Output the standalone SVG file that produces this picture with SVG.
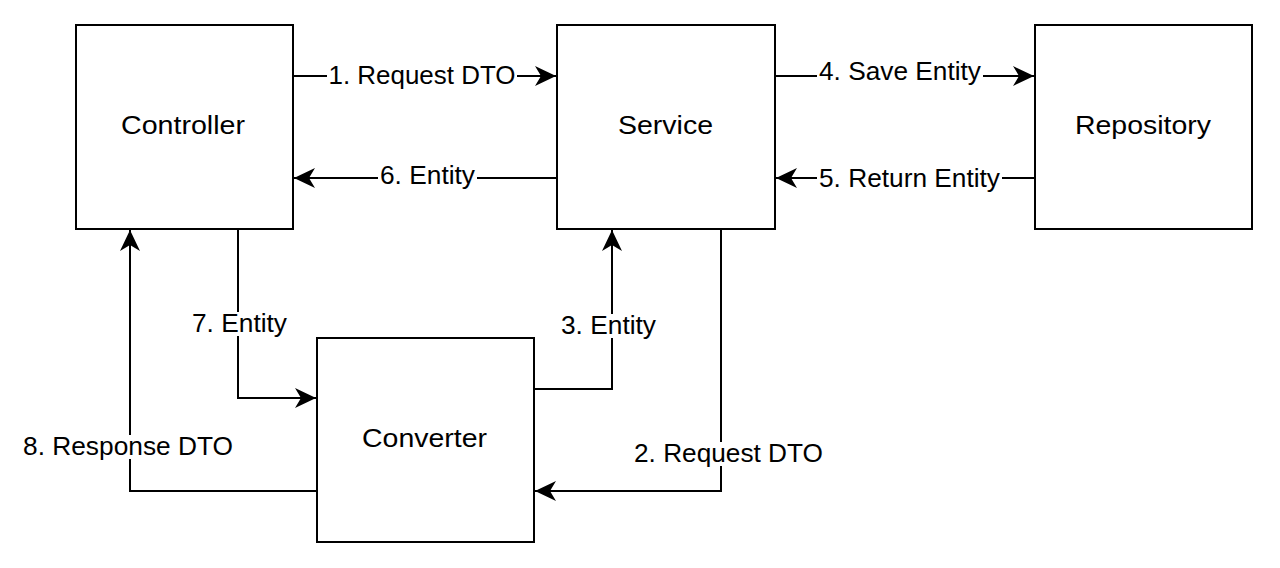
<svg xmlns="http://www.w3.org/2000/svg" width="1280" height="568" viewBox="0 0 1280 568">
<style>
.box{fill:#fff;stroke:#000;stroke-width:2}
.edge{fill:none;stroke:#000;stroke-width:2}
.t{font-family:"Liberation Sans",Arial,Helvetica,sans-serif;font-size:25px;fill:#000}
.bg{fill:#fff}
</style>
<defs>
<marker id="arr" markerUnits="userSpaceOnUse" markerWidth="24" markerHeight="22" refX="21" refY="10" orient="auto" viewBox="0 0 24 22">
<path d="M0,0 L21,10 L0,20 L6,10 Z" fill="#000"/>
</marker>
</defs>
<rect width="1280" height="568" fill="#fff"/>
<g id="connectors">
<path class="edge" d="M293,76 H556" marker-end="url(#arr)"/>
<path class="edge" d="M557,178 H294" marker-end="url(#arr)"/>
<path class="edge" d="M775,76 H1034" marker-end="url(#arr)"/>
<path class="edge" d="M1035,178 H776" marker-end="url(#arr)"/>
<path class="edge" d="M238,229 V398 H316" marker-end="url(#arr)"/>
<path class="edge" d="M317,491 H130 V230" marker-end="url(#arr)"/>
<path class="edge" d="M534,389 H612 V230" marker-end="url(#arr)"/>
<path class="edge" d="M721,229 V491 H535" marker-end="url(#arr)"/>
<rect class="bg" x="327" y="64" width="190" height="24"/>
<text class="t" x="328.5" y="84" textLength="187" lengthAdjust="spacingAndGlyphs">1. Request DTO</text>
<rect class="bg" x="378" y="164" width="99" height="24"/>
<text class="t" x="380" y="184" textLength="95" lengthAdjust="spacingAndGlyphs">6. Entity</text>
<rect class="bg" x="817" y="60" width="166" height="24"/>
<text class="t" x="819" y="80" textLength="162" lengthAdjust="spacingAndGlyphs">4. Save Entity</text>
<rect class="bg" x="817" y="167" width="185" height="24"/>
<text class="t" x="819" y="187" textLength="181" lengthAdjust="spacingAndGlyphs">5. Return Entity</text>
<rect class="bg" x="190" y="312" width="99" height="24"/>
<text class="t" x="192" y="332" textLength="95" lengthAdjust="spacingAndGlyphs">7. Entity</text>
<rect class="bg" x="559" y="314" width="99" height="24"/>
<text class="t" x="561" y="334" textLength="95" lengthAdjust="spacingAndGlyphs">3. Entity</text>
<rect class="bg" x="632" y="442" width="193" height="24"/>
<text class="t" x="634" y="462" textLength="189" lengthAdjust="spacingAndGlyphs">2. Request DTO</text>
<rect class="bg" x="21" y="435" width="214" height="24"/>
<text class="t" x="23" y="455" textLength="210" lengthAdjust="spacingAndGlyphs">8. Response DTO</text>
</g>
<g id="controller">
<rect class="box" x="76" y="25" width="217" height="204"/>
<text class="t" x="121" y="134" textLength="124" lengthAdjust="spacingAndGlyphs">Controller</text>
</g>
<g id="service">
<rect class="box" x="557" y="25" width="218" height="204"/>
<text class="t" x="618" y="134" textLength="95" lengthAdjust="spacingAndGlyphs">Service</text>
</g>
<g id="repository">
<rect class="box" x="1035" y="25" width="217" height="204"/>
<text class="t" x="1075" y="134" textLength="136" lengthAdjust="spacingAndGlyphs">Repository</text>
</g>
<g id="converter">
<rect class="box" x="317" y="338" width="217" height="204"/>
<text class="t" x="362" y="447" textLength="125" lengthAdjust="spacingAndGlyphs">Converter</text>
</g>
</svg>
